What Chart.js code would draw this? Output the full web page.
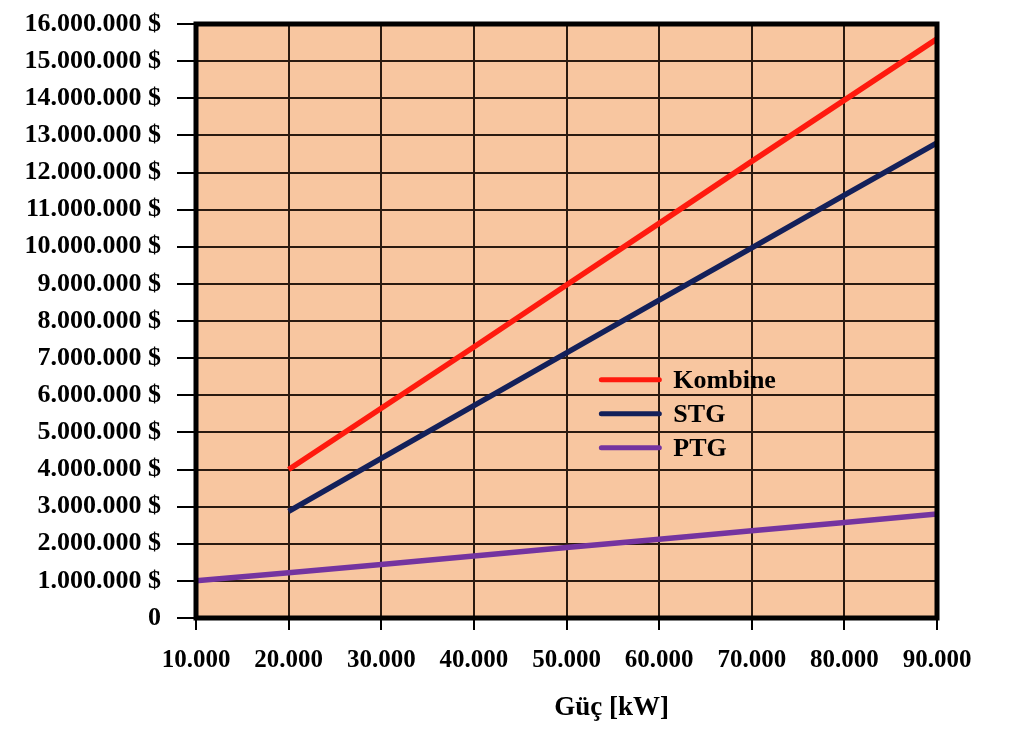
<!DOCTYPE html>
<html><head><meta charset="utf-8">
<script src="https://cdn.jsdelivr.net/npm/chart.js@4/dist/chart.umd.min.js"></script>
<style>html,body{margin:0;padding:0;background:#fff;}#wrap{width:1024px;height:730px;}</style>
</head><body><div id="wrap"><canvas id="c" width="1024" height="730"></canvas></div>
<script>
const powerKW = [10000, 20000, 30000, 40000, 50000, 60000, 70000, 80000, 90000];
const kombine = [null, 4000000, 5650000, 7300000, 8970000, 10630000, 12300000, 13950000, 15600000];
const stg = [null, 2870000, 4300000, 5720000, 7140000, 8560000, 9970000, 11390000, 12800000];
const ptg = [1000000, 1220000, 1440000, 1670000, 1900000, 2120000, 2350000, 2570000, 2800000];
const seriesLabels = ['Kombine', 'STG', 'PTG'];
const seriesColors = ['#FF1A0E', '#13205A', '#7434A0'];
const xTitle = 'Güç [kW]';

function fmt(v){ return String(Math.round(v)).replace(/\B(?=(\d{3})+(?!\d))/g, '.'); }
const FONT = '"Liberation Serif", "Times New Roman", serif';

function toXY(arr){ return powerKW.map((x,i)=>({x:x, y:arr[i]})).filter(p=>p.y!==null); }

const bgPlugin = {
  id:'bg',
  beforeDraw(chart){
    const {ctx, chartArea:a} = chart;
    ctx.save(); ctx.fillStyle='#F8C6A0'; ctx.fillRect(a.left,a.top,a.right-a.left,a.bottom-a.top); ctx.restore();
  },
  afterDatasetsDraw(chart){
    const {ctx, chartArea:a} = chart;
    ctx.save(); ctx.strokeStyle='#000'; ctx.lineWidth=5;
    ctx.strokeRect(a.left,a.top,a.right-a.left,a.bottom-a.top); ctx.restore();
    const lx = a.left + (a.right-a.left)*0.547;
    const ly = a.top + (a.bottom-a.top)*0.599;
    ctx.save();
    ctx.font = 'bold 26px ' + FONT;
    ctx.textBaseline = 'middle';
    chart.data.datasets.forEach((ds,i)=>{
      const y = ly + i*34;
      ctx.strokeStyle = ds.borderColor; ctx.lineWidth = 5; ctx.lineCap='round';
      ctx.beginPath(); ctx.moveTo(lx, y); ctx.lineTo(lx+58, y); ctx.stroke();
      ctx.fillStyle = '#000'; ctx.fillText(ds.label, lx+72, y+1);
    });
    // axis title (offset right of centre as in the original)
    ctx.font = 'bold 27px ' + FONT;
    ctx.textAlign = 'center';
    ctx.fillText(xTitle, a.left + (a.right-a.left)*0.561, a.bottom + 90);
    ctx.restore();
  }
};

new Chart(document.getElementById('c'), {
  type:'line',
  data:{ datasets:[
    {label:seriesLabels[0], data:toXY(kombine), borderColor:seriesColors[0], borderWidth:5.5, pointRadius:0, tension:0},
    {label:seriesLabels[1], data:toXY(stg), borderColor:seriesColors[1], borderWidth:5.5, pointRadius:0, tension:0},
    {label:seriesLabels[2], data:toXY(ptg), borderColor:seriesColors[2], borderWidth:5.5, pointRadius:0, tension:0}
  ]},
  options:{
    responsive:false, animation:false,
    layout:{padding:{left:0, right:87, top:24, bottom:0}},
    plugins:{legend:{display:false}, tooltip:{enabled:false}},
    scales:{
      x:{ type:'linear', min:10000, max:90000,
        ticks:{stepSize:10000, callback:v=>fmt(v), color:'#000', padding:16, maxRotation:0,
          font:{family:FONT, size:25, weight:'bold'}},
        grid:{color:'#2a1a10', lineWidth:2, tickLength:12, tickColor:'#000', drawOnChartArea:true},
        border:{display:false},
        title:{display:false, text:xTitle},
        afterFit(s){ s.height = 112; s.paddingLeft = 0; s.paddingRight = 0; }
      },
      y:{ min:0, max:16000000,
        ticks:{stepSize:1000000, callback:v=> v===0 ? '0' : fmt(v)+' $', color:'#000', padding:16,
          font:{family:FONT, size:26, weight:'bold'}},
        grid:{color:'#2a1a10', lineWidth:2, tickLength:19, tickColor:'#000'},
        border:{display:false},
        afterFit(s){ s.width = 196; s.paddingTop = 0; s.paddingBottom = 0; }
      }
    }
  },
  plugins:[bgPlugin]
});
</script></body></html>
